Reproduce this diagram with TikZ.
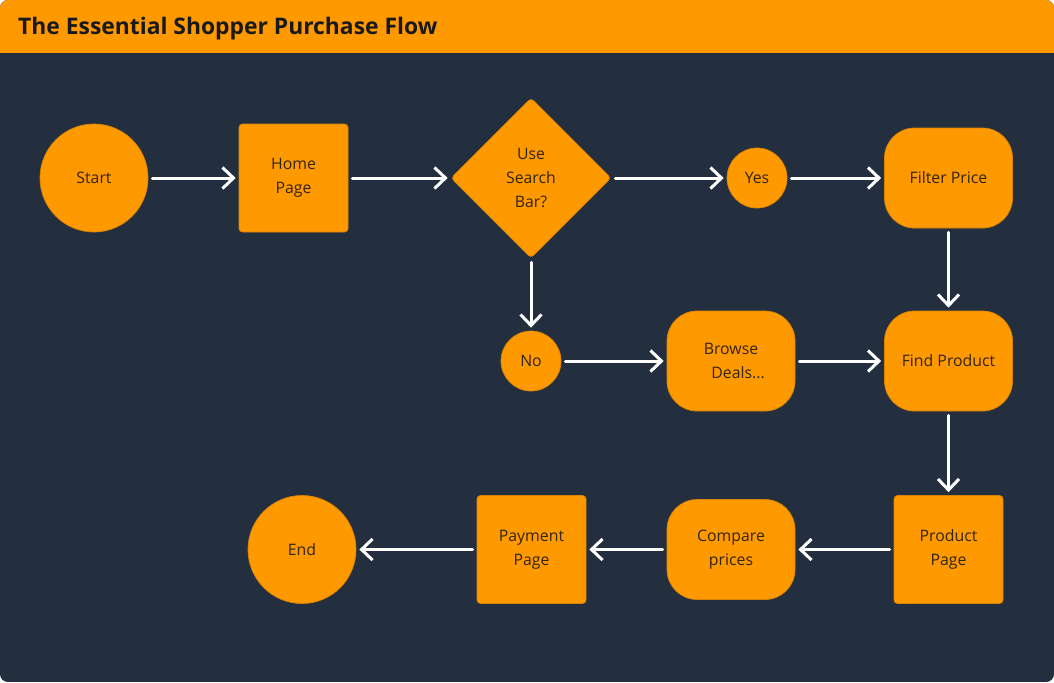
\documentclass[tikz,border=0pt]{standalone}
\usepackage{fontspec}
\setmainfont{Open Sans}
\usepackage{xcolor}
\usetikzlibrary{positioning, shapes.geometric, arrows.meta}

\definecolor{squidink}{HTML}{232F3E}
\definecolor{amzorange}{HTML}{FF9900}
\definecolor{edgeorange}{HTML}{D98200}
\definecolor{labelbrown}{HTML}{33240E}

\tikzset{
  base/.style={fill=amzorange, draw=edgeorange, line width=0.4pt, text=labelbrown,
    font=\fontsize{9}{13.6}\selectfont, align=center, inner sep=0pt},
  terminal/.style={base, circle, minimum size=2.16cm},
  answer/.style={base, circle, minimum size=1.2cm},
  pagebox/.style={base, rectangle, rounded corners=2pt, minimum width=2.18cm, minimum height=2.16cm},
  actionbox/.style={base, rectangle, rounded corners=0.6cm, minimum width=2.56cm, minimum height=2cm},
  decision/.style={base, diamond, rounded corners=2pt, minimum width=3.2cm, minimum height=3.2cm},
  flow/.style={-{Straight Barb[length=0.22cm,width=0.42cm]}, draw=white, line width=0.06cm,
    line cap=round, shorten >=0.06cm, shorten <=0.08cm}
}

\begin{document}
\begin{tikzpicture}[node distance=4cm, on grid]
    \useasboundingbox (0,0) rectangle (21.08,-13.64);
    \fill[white] (0,0) rectangle (21.08,-13.64);
    \begin{scope}
        \clip[rounded corners=0.16cm] (0,0) rectangle (21.08,-13.64);
        \fill[squidink] (0,0) rectangle (21.08,-13.64);
        \fill[amzorange] (0,0) rectangle (21.08,-1.06);
    \end{scope}
    \node[anchor=west, text=black!90, font=\bfseries\fontsize{13}{16}\selectfont] (title) at (0.24,-0.58) {The Essential Shopper Purchase Flow};

    % top row
    \node[terminal] (start) at (1.88,-3.56) {Start};
    \node[pagebox] (home) [right=3.99cm of start] {Home\\Page};
    \node[decision] (search) [right=4.75cm of home] {Use\\Search\\Bar?};
    \node[answer] (yes) [right=4.52cm of search] {Yes};
    \node[actionbox] (filter) [right=3.83cm of yes] {Filter Price};

    % middle row
    \node[answer] (no) [below=3.66cm of search] {No};
    \node[actionbox] (browse) [right=4cm of no] {Browse\\\hspace*{0.9em}Deals...};
    \node[actionbox] (find) [below=3.66cm of filter] {Find Product};

    % bottom row
    \node[pagebox] (product) [below=3.77cm of find] {Product\\Page};
    \node[actionbox] (compare) [left=4.35cm of product] {Compare\\prices};
    \node[pagebox] (payment) [left=3.99cm of compare] {Payment\\Page};
    \node[terminal] (end) [left=4.59cm of payment] {End};

    \path[flow]
    (start) edge (home)
    (home) edge (search)
    (search) edge (yes)
             edge (no)
    (yes) edge (filter)
    (filter) edge (find)
    (no) edge (browse)
    (browse) edge (find)
    (find) edge (product)
    (product) edge (compare)
    (compare) edge (payment)
    (payment) edge (end);
\end{tikzpicture}
\end{document}
